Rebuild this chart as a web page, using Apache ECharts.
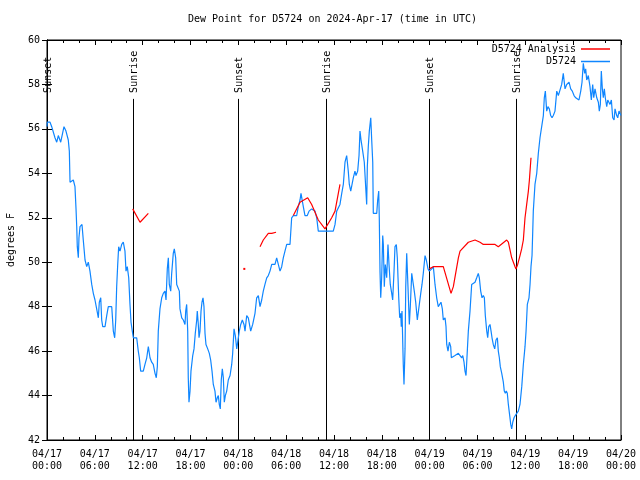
<!DOCTYPE html>
<html>
<head>
<meta charset="utf-8">
<script src="https://cdn.jsdelivr.net/npm/echarts@6/dist/echarts.min.js"></script>
<style>html,body{margin:0;padding:0;background:#fff;}#c{width:640px;height:480px;}</style>
</head>
<body>
<div id="c"></div>
<script>
// Hours since 2024-04-17 00:00 UTC
const dewHours = [0.00,0.04,0.38,0.59,1.00,1.22,1.42,1.72,2.13,2.38,2.67,2.80,2.89,3.30,3.51,3.64,3.73,3.80,3.93,4.01,4.14,4.39,4.55,4.77,4.98,5.18,5.39,5.61,5.81,6.02,6.23,6.44,6.56,6.74,6.86,6.99,7.28,7.49,7.69,8.12,8.32,8.49,8.62,8.74,8.87,8.99,9.16,9.37,9.57,9.78,9.91,10.07,10.25,10.41,10.54,10.70,10.83,11.25,11.45,11.58,11.75,12.08,12.29,12.51,12.71,12.92,13.13,13.33,13.55,13.71,13.84,13.96,14.17,14.39,14.59,14.80,14.93,15.09,15.22,15.34,15.52,15.64,15.84,15.97,16.14,16.27,16.47,16.60,16.68,16.90,17.10,17.31,17.40,17.52,17.65,17.72,17.81,17.94,18.06,18.28,18.44,18.60,18.78,18.85,18.98,19.07,19.19,19.32,19.44,19.57,19.69,19.82,19.94,20.16,20.36,20.53,20.70,20.86,21.07,21.20,21.36,21.49,21.61,21.74,21.86,21.99,22.12,22.24,22.37,22.54,22.74,22.96,23.17,23.29,23.46,23.62,23.80,23.96,24.12,24.30,24.50,24.71,24.84,25.05,25.25,25.55,25.80,26.09,26.30,26.51,26.72,26.93,27.13,27.34,27.56,27.76,27.97,28.19,28.39,28.60,28.81,29.01,29.23,29.44,29.64,29.85,30.07,30.48,30.60,30.69,30.90,31.32,31.52,31.74,31.86,32.02,32.15,32.36,32.65,32.87,33.20,33.62,33.83,34.03,34.46,34.87,35.50,35.91,36.13,36.34,36.75,36.97,37.17,37.38,37.59,37.79,37.92,38.10,38.30,38.42,38.63,38.76,38.97,39.14,39.26,39.39,39.60,39.80,40.02,40.10,40.18,40.30,40.43,40.61,40.73,40.86,40.93,41.36,41.48,41.61,41.68,41.77,41.86,41.98,42.11,42.19,42.31,42.44,42.61,42.77,42.90,43.06,43.24,43.36,43.53,43.65,43.82,43.94,44.03,44.12,44.24,44.37,44.44,44.53,44.69,44.78,44.91,45.00,45.12,45.28,45.45,45.57,45.75,45.95,46.07,46.25,46.45,46.70,46.88,47.04,47.20,47.42,47.58,47.79,47.96,48.26,48.46,48.67,48.88,49.08,49.30,49.42,49.59,49.71,49.93,50.05,50.14,50.30,50.47,50.64,50.72,50.97,51.18,51.60,51.81,52.02,52.15,52.31,52.43,52.56,52.77,52.85,53.06,53.27,53.47,53.69,53.90,54.10,54.23,54.40,54.57,54.73,54.86,54.98,55.16,55.28,55.41,55.57,55.70,55.82,55.98,56.16,56.32,56.49,56.61,56.74,56.86,57.04,57.24,57.36,57.49,57.61,57.74,57.87,58.04,58.17,58.29,58.42,58.58,58.74,58.92,59.12,59.33,59.55,59.75,59.96,60.09,60.25,60.46,60.59,60.71,60.84,60.93,61.00,61.21,61.43,61.63,61.84,62.05,62.26,62.38,62.51,62.68,62.84,63.01,63.18,63.35,63.51,63.72,63.94,64.14,64.35,64.56,64.76,64.98,65.19,65.48,65.69,65.89,66.11,66.32,66.52,66.73,66.95,67.11,67.27,67.45,67.57,67.70,67.90,68.11,68.28,68.45,68.58,68.74,68.96,69.16,69.28,69.41,69.53,69.66,69.78,69.91,70.03,70.21,70.34,70.46,70.62,70.79,70.96,71.13,71.25,71.46,71.59,71.75,72.00];
const dewValues = [56.1,56.3,56.3,56.1,55.6,55.4,55.7,55.4,56.1,55.9,55.5,55.0,53.6,53.7,53.4,52.4,51.6,50.7,50.2,51.1,51.6,51.7,51.0,50.1,49.8,50.0,49.6,49.0,48.6,48.3,47.9,47.5,48.2,48.4,47.4,47.1,47.1,47.6,48.0,48.0,46.9,46.6,47.4,48.9,49.9,50.7,50.5,50.8,50.9,50.5,49.6,49.8,49.3,48.1,47.3,46.9,46.6,46.6,46.0,45.7,45.1,45.1,45.4,45.7,46.2,45.7,45.5,45.4,45.0,44.8,45.3,46.9,47.9,48.4,48.6,48.7,48.3,49.7,50.2,49.0,48.7,49.5,50.4,50.6,50.2,49.0,49.0,48.7,47.9,47.5,47.4,47.2,47.8,48.1,46.9,44.8,43.7,44.2,45.1,45.8,46.1,46.8,47.4,47.8,47.2,46.6,46.9,47.8,48.2,48.4,48.0,46.8,46.3,46.1,45.9,45.6,45.1,44.5,44.2,43.7,43.9,44.0,43.6,43.4,44.7,45.2,44.8,43.7,44.0,44.2,44.7,44.9,45.4,45.9,47.0,46.7,46.1,46.5,46.9,47.2,47.4,47.2,46.9,47.6,47.5,46.9,47.2,47.7,48.4,48.5,48.0,48.3,48.7,49.0,49.3,49.4,49.6,49.9,49.9,49.9,50.2,50.2,49.6,49.8,50.2,50.5,50.8,50.8,50.8,52.0,52.1,52.1,52.5,52.8,53.1,53.1,52.5,52.1,52.1,52.3,52.4,52.3,52.0,51.4,51.4,51.4,51.4,51.4,51.7,52.3,52.6,53.1,53.5,54.5,54.8,54.1,53.5,53.2,53.2,53.8,54.1,53.9,54.1,54.8,55.9,55.5,55.0,54.5,53.1,52.6,54.3,55.2,55.9,56.5,55.5,54.5,52.2,52.2,52.8,53.2,52.0,49.6,48.4,49.3,51.2,50.8,48.9,49.9,49.3,50.8,49.9,49.0,48.6,48.3,49.6,50.7,50.8,50.2,49.3,48.4,47.5,47.7,47.1,47.8,45.4,44.5,46.1,48.9,50.4,48.9,47.2,48.0,49.5,49.5,48.7,48.2,47.4,47.4,48.6,49.0,49.5,50.3,50.1,49.7,49.6,49.7,49.8,49.0,48.4,48.0,48.0,48.2,47.9,47.4,47.5,47.1,46.3,46.0,46.4,46.2,45.7,45.7,45.8,45.9,45.8,45.7,45.8,45.5,45.1,44.9,44.9,46.9,47.8,49.0,49.0,49.1,49.3,49.5,49.3,48.7,48.4,48.5,48.4,47.6,46.9,46.6,47.1,47.2,46.9,46.6,46.3,46.1,46.5,46.6,46.0,45.7,45.3,45.0,44.6,44.2,44.1,44.2,44.1,43.6,43.1,42.7,42.5,42.8,43.0,43.1,43.2,43.3,43.6,44.4,45.4,46.2,46.9,48.1,48.4,49.0,49.8,50.3,51.4,52.3,53.5,54.0,54.9,55.6,56.1,56.6,57.4,57.7,56.8,57.0,56.9,56.6,56.5,56.6,56.8,57.7,57.5,57.5,58.0,58.5,57.8,58.0,58.1,57.8,57.7,57.5,57.4,57.4,57.3,57.7,58.1,58.95,58.5,58.7,58.2,58.4,57.9,57.3,58.0,57.4,57.8,57.4,57.2,56.8,57.1,58.6,57.8,57.4,57.8,57.4,57.0,57.3,57.3,57.1,57.3,56.5,56.4,56.9,56.6,56.5,56.8,56.6];

// Analysis series (null = gap)
const anaHours  = [10.75,11.67,12.71,null,24.75,null,26.72,27.13,27.76,28.19,28.73,null,30.90,31.74,32.70,33.20,34.03,34.87,35.71,36.13,36.75,null,47.96,48.46,49.08,49.71,50.68,50.97,51.60,51.81,52.85,53.69,54.32,54.73,55.78,56.20,56.61,57.66,57.87,58.29,58.71,58.83,59.04,59.33,59.54,59.75,59.96,60.17,60.38,60.51,60.71];
const anaValues = [52.4,51.8,52.2,null,49.7,null,50.7,51.0,51.3,51.3,51.35,null,52.1,52.7,52.9,52.6,51.9,51.5,52.0,52.3,53.5,null,49.7,49.8,49.8,49.8,48.6,48.9,50.2,50.5,50.9,51.0,50.9,50.8,50.8,50.8,50.7,51.0,50.9,50.2,49.8,49.7,49.9,50.3,50.6,51.0,52.0,52.6,53.2,53.7,54.7];

const sunHours  = [0.05,10.83,24.00,34.96,47.96,58.87];
const sunLabels = ['Sunset','Sunrise','Sunset','Sunrise','Sunset','Sunrise'];

const xTickLabels = ['04/17\n00:00','04/17\n06:00','04/17\n12:00','04/17\n18:00','04/18\n00:00','04/18\n06:00','04/18\n12:00','04/18\n18:00','04/19\n00:00','04/19\n06:00','04/19\n12:00','04/19\n18:00','04/20\n00:00'];

const FONT = 'DejaVu Sans Mono';
const BLUE = '#0f86ff';
const RED = '#ff0000';

const dewData = dewHours.map((h, i) => [h, dewValues[i]]);
const anaData = anaHours.map((h, i) => {
  if (h === null) return [null, null];
  const prevNull = i === 0 || anaHours[i - 1] === null;
  const nextNull = i === anaHours.length - 1 || anaHours[i + 1] === null;
  if (prevNull && nextNull) {
    return { value: [h, anaValues[i]], symbol: 'rect', symbolSize: 2, itemStyle: { color: RED } };
  }
  return [h, anaValues[i]];
});
const sunData = sunHours.map((h, i) => [h, sunLabels[i]]);

const chart = echarts.init(document.getElementById('c'), null, { renderer: 'canvas' });

const baseX = {
  type: 'value', min: 0, max: 72, interval: 6,
  axisLine: { show: true, lineStyle: { color: '#000', width: 1 } },
  axisTick: { show: true, inside: true, length: 5, lineStyle: { color: '#000' } },
  minorTick: { show: true, splitNumber: 3, length: 3, lineStyle: { color: '#000' } },
  splitLine: { show: false }
};
const baseY = {
  type: 'value', min: 42, max: 60, interval: 2,
  axisLine: { show: true, lineStyle: { color: '#000', width: 1 } },
  axisTick: { show: true, inside: true, length: 5, lineStyle: { color: '#000' } },
  splitLine: { show: false }
};

const legendCommon = {
  right: 30, padding: 0, itemWidth: 29, itemHeight: 1.5, itemGap: 0, align: 'right', icon: 'rect',
  textStyle: { fontFamily: FONT, fontSize: 10, color: '#000' }
};

chart.setOption({
  animation: false,
  backgroundColor: '#fff',
  title: {
    text: 'Dew Point for D5724 on 2024-Apr-17 (time in UTC)',
    left: 188, top: 14, padding: 0,
    textStyle: { fontFamily: FONT, fontSize: 10, fontWeight: 'normal', color: '#000' }
  },
  legend: [
    Object.assign({}, legendCommon, { data: ['D5724 Analysis'], top: 44 }),
    Object.assign({}, legendCommon, { data: ['D5724'], top: 56.5 })
  ],
  grid: { left: 47, right: 19, top: 40, bottom: 40, containLabel: false, outerBoundsMode: 'none',
          show: true, borderColor: '#000', borderWidth: 1, backgroundColor: 'transparent' },
  xAxis: [
    Object.assign({}, baseX, {
      position: 'bottom',
      axisLabel: {
        fontFamily: FONT, fontSize: 10, color: '#000', margin: 8, lineHeight: 12,
        formatter: v => xTickLabels[Math.round(v / 6)]
      }
    }),
    Object.assign({}, baseX, { position: 'top', axisLabel: { show: false } })
  ],
  yAxis: [
    Object.assign({}, baseY, {
      position: 'left',
      name: 'degrees F', nameLocation: 'middle', nameGap: 31, nameRotate: 90,
      nameTextStyle: { fontFamily: FONT, fontSize: 10, color: '#000' },
      axisLabel: { fontFamily: FONT, fontSize: 10, color: '#000', margin: 7 }
    }),
    Object.assign({}, baseY, { position: 'right', axisLabel: { show: false } })
  ],
  series: [
    {
      name: 'Sun', type: 'custom', xAxisIndex: 0, yAxisIndex: 0, clip: false, z: 1,
      data: sunData,
      encode: { x: 0 },
      renderItem: function (params, api) {
        const h = api.value(0);
        const label = sunLabels[params.dataIndex];
        const bottom = api.coord([h, 42]);
        const top = api.coord([h, 57.35]);
        return {
          type: 'group',
          children: [
            { type: 'line', shape: { x1: Math.round(bottom[0]) + 0.5, y1: bottom[1], x2: Math.round(bottom[0]) + 0.5, y2: top[1] },
              style: { stroke: '#000', lineWidth: 1 } },
            { type: 'text', x: Math.round(top[0]) + 1, y: top[1] - 6, rotation: Math.PI / 2,
              style: { text: label, x: 0, y: 0, align: 'left', verticalAlign: 'middle', fill: '#000', font: '10px "' + FONT + '"' } }
          ]
        };
      }
    },
    {
      name: 'D5724 Analysis', type: 'line', data: anaData, connectNulls: false,
      showSymbol: true, symbol: 'none', symbolSize: 0,
      lineStyle: { color: RED, width: 1.2 }, itemStyle: { color: RED }, z: 3
    },
    {
      name: 'D5724', type: 'line', data: dewData,
      showSymbol: false, symbol: 'none',
      lineStyle: { color: BLUE, width: 1.2 }, itemStyle: { color: BLUE }, z: 2
    }
  ]
});
</script>
</body>
</html>
